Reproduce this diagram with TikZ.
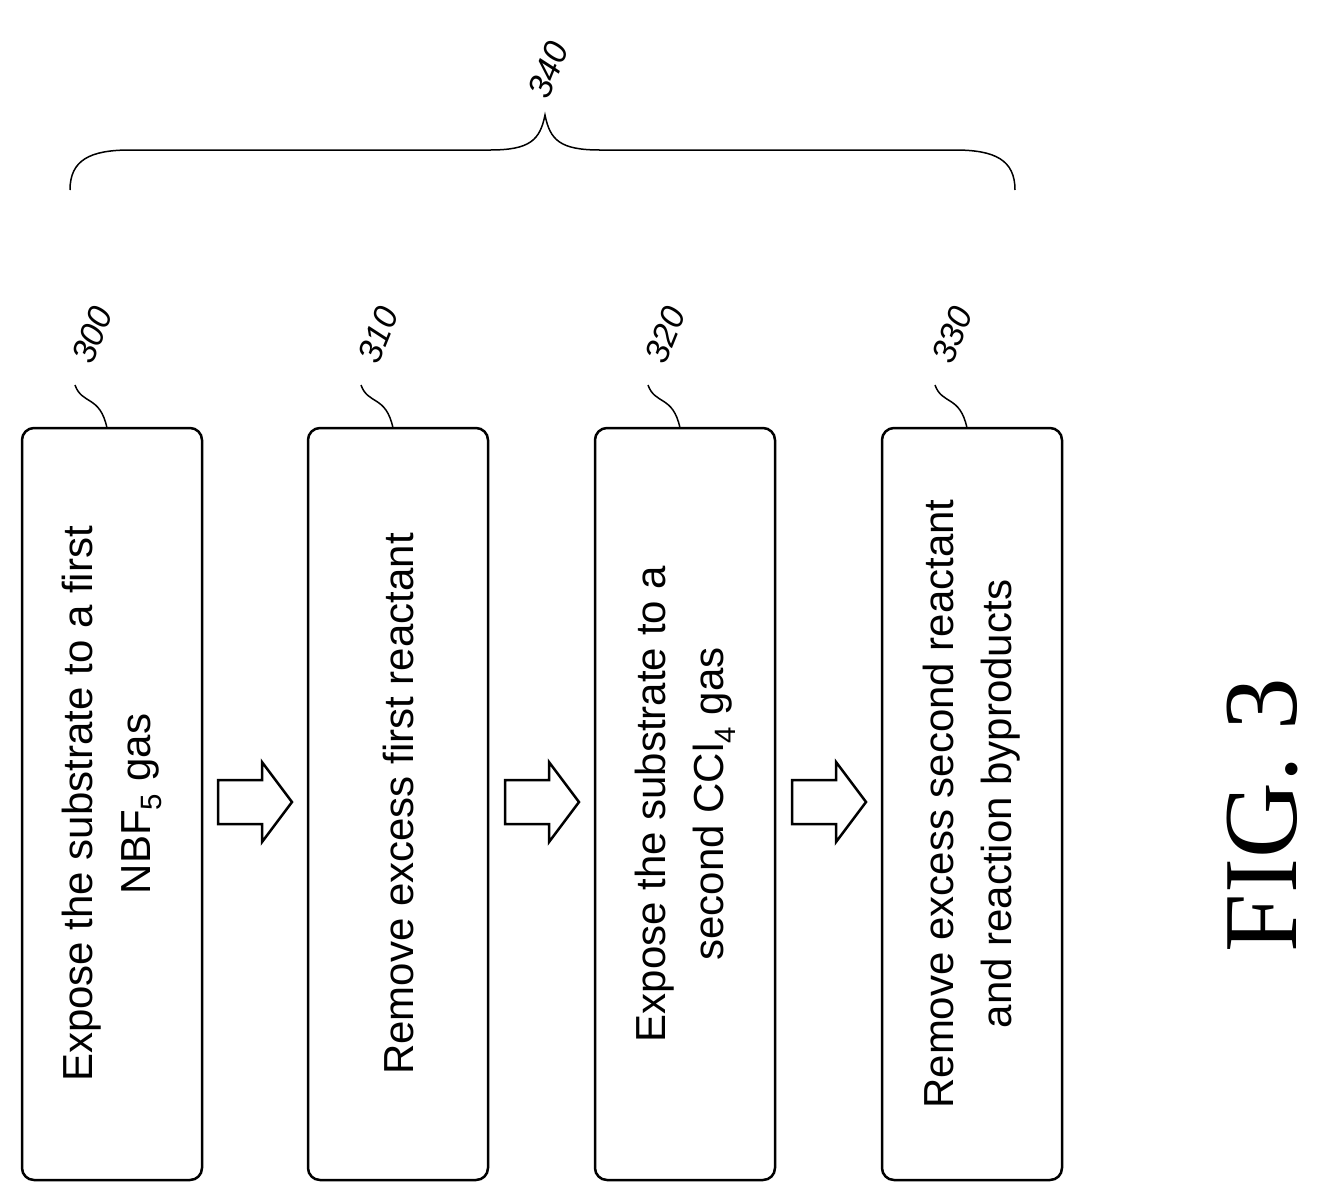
\documentclass[tikz,border=0pt]{standalone}
\usepackage{fontspec}
\setmainfont{Liberation Sans}
\newfontfamily\figfont{Liberation Serif}
\usetikzlibrary{positioning}
\tikzset{
	stepbox/.style={draw, line width=2.5pt, rounded corners=12pt, minimum width=180pt, minimum height=752pt, inner sep=0pt},
	steptext/.style={rotate=90, align=center, font=\fontsize{42}{58}\selectfont},
	reftext/.style={rotate=68, font=\fontsize{34}{34}\selectfont\itshape},
	blockarrow/.style={draw, line width=2.5pt, fill=white}
}
\begin{document}
\begin{tikzpicture}[x=1pt, y=-1pt]
	\useasboundingbox (0,0) rectangle (1330,1203);
	
	\node[stepbox] (s300) at (112, 804) {};
	\node[stepbox] (s310) at (398, 804) {};
	\node[stepbox] (s320) at (685, 804) {};
	\node[stepbox] (s330) at (972, 804) {};
	
	\node[steptext] at (s300) {Expose the substrate to a first\\NBF\textsubscript{5} gas};
	\node[steptext] at (s310) {Remove excess first reactant};
	\node[steptext] at (s320) {Expose the substrate to a\\second CCl\textsubscript{4} gas};
	\node[steptext] at (s330) {Remove excess second reactant\\and reaction byproducts};
	
	% block arrows between the steps
	\foreach \x in {218, 505, 792} {
		\draw[blockarrow] (\x, 780) -- ++(44, 0) -- ++(0, -18) -- ++(30, 40) -- ++(-30, 40) -- ++(0, -18) -- ++(-44, 0) -- cycle;
	};
	
	% reference numerals
	\foreach \n/\x in {300/112, 310/398, 320/685, 330/972} {
		\draw[line width=1.5pt] (\x-5, 428) .. controls (\x-12, 395) and (\x-30, 405) .. (\x-37, 385);
		\node[reftext] at (\x-20, 335) {\n};
	};
	
	% brace over all steps
	\draw[line width=1.5pt] (70, 190) .. controls (70, 160) and (90, 150) .. (130, 150) -- (490, 150)
		.. controls (530, 150) and (540, 140) .. (545, 115)
		.. controls (550, 140) and (560, 150) .. (600, 150) -- (955, 150)
		.. controls (995, 150) and (1015, 160) .. (1015, 190);
	\node[reftext] (n340) at (548, 70) {340};
	
	\node[rotate=90, font=\figfont\fontsize{105}{105}\selectfont] (fig) at (1262, 815) {FIG. 3};
\end{tikzpicture}
\end{document}
